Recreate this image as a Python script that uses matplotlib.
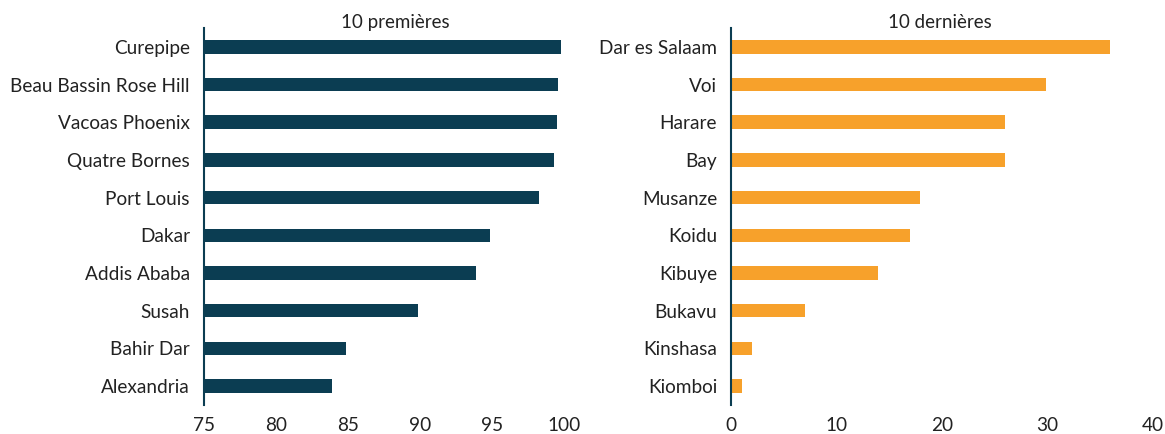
import matplotlib.pyplot as plt

# 10 premières
villes_top = ['Curepipe', 'Beau Bassin Rose Hill', 'Vacoas Phoenix', 'Quatre Bornes',
              'Port Louis', 'Dakar', 'Addis Ababa', 'Susah', 'Bahir Dar', 'Alexandria']
valeurs_top = [99.8, 99.6, 99.5, 99.3, 98.3, 94.9, 93.9, 89.9, 84.9, 83.9]

# 10 dernières
villes_bas = ['Dar es Salaam', 'Voi', 'Harare', 'Bay', 'Musanze', 'Koidu',
              'Kibuye', 'Bukavu', 'Kinshasa', 'Kiomboi']
valeurs_bas = [35.9, 29.9, 25.95, 25.95, 17.9, 16.95, 13.9, 7.0, 2.0, 1.0]

bleu = '#0b3d52'
orange = '#f7a12b'

plt.rcParams['font.family'] = ['Lato', 'DejaVu Sans']

fig = plt.figure(figsize=(11.65, 4.34), dpi=100)
ax1 = fig.add_axes([0.175, 0.067, 0.309, 0.8685])
ax2 = fig.add_axes([0.6275, 0.067, 0.3622, 0.8685])


def panneau(ax, villes, valeurs, couleur, titre, xlim, ticks, tx):
    pos = list(range(len(villes)))
    ax.barh(pos, valeurs, height=0.36, color=couleur, left=xlim[0])
    ax.set_yticks(pos)
    ax.set_yticklabels(villes, fontsize=13.7, color='#222222')
    ax.set_ylim(len(villes) - 0.5, -0.5)
    ax.set_xlim(*xlim)
    ax.set_xticks(ticks)
    ax.tick_params(axis='both', length=0, labelsize=13.7, colors='#222222')
    ax.tick_params(axis='y', pad=10)
    ax.tick_params(axis='x', pad=9)
    for s in ['top', 'right', 'bottom']:
        ax.spines[s].set_visible(False)
    ax.spines['left'].set_color(bleu)
    ax.spines['left'].set_linewidth(1.5)
    ax.text(tx, 1.0, titre, transform=ax.transAxes, ha='center', va='baseline',
            fontsize=13.5, color='#222222')


# les barres de gauche partent de 75
panneau(ax1, villes_top, [v - 75 for v in valeurs_top], bleu, '10 premières',
        (75, 100), [75, 80, 85, 90, 95, 100], 0.533)
panneau(ax2, villes_bas, valeurs_bas, orange, '10 dernières',
        (0, 40), [0, 10, 20, 30, 40], 0.495)

fig.savefig('out.png', dpi=100)
